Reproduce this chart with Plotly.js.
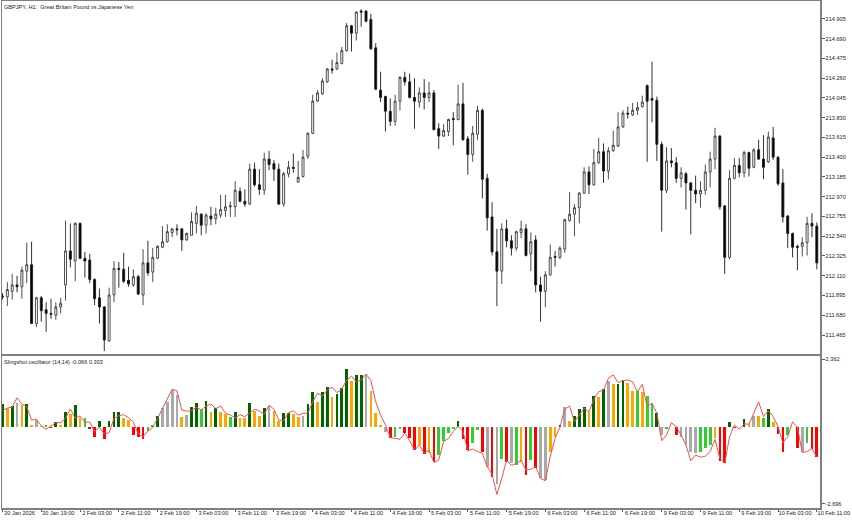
<!DOCTYPE html>
<html><head><meta charset="utf-8">
<script src="https://cdn.plot.ly/plotly-3.0.1.min.js"></script>
<style>html,body{margin:0;padding:0;background:#fff}</style></head>
<body><div id="c" style="width:852px;height:520px"></div>
<script>
const open=[211.89,211.88,211.94,212.01,211.99,212.16,212.23,211.59,211.87,211.74,211.70,211.68,211.77,212.01,212.38,212.27,212.68,212.30,212.28,212.07,211.87,211.77,211.40,211.90,212.19,212.18,212.06,212.01,212.10,211.90,212.25,212.15,212.30,212.42,212.48,212.58,212.62,212.62,212.50,212.55,212.68,212.78,212.66,212.76,
212.73,212.77,212.82,212.86,212.86,213.03,212.92,212.89,213.27,213.10,213.04,213.38,213.33,213.27,212.89,213.22,213.29,213.13,213.19,213.41,213.66,214.01,214.09,214.22,214.36,214.36,214.42,214.56,214.83,214.75,214.99,214.99,214.90,214.59,214.13,214.06,213.90,213.79,214.01,214.27,214.22,214.05,214.00,
214.10,214.05,214.10,213.71,213.63,213.68,213.82,213.81,213.98,213.60,213.43,213.65,213.91,213.17,212.75,212.37,212.16,212.62,212.49,212.41,212.58,212.62,212.35,212.50,212.01,211.94,212.12,212.32,212.31,212.40,212.71,212.78,212.85,213.01,213.24,213.10,213.34,213.46,213.25,213.47,213.52,213.73,213.88,
213.86,213.91,213.95,214.18,214.04,214.02,213.54,213.04,213.36,213.34,213.17,213.22,213.12,213.04,213.00,213.04,213.24,213.38,213.63,212.87,212.31,213.17,213.31,213.23,213.45,213.29,213.48,213.38,213.35,213.61,213.40,213.12,212.76,212.57,212.43,212.43,212.47,212.68,212.65];
const high=[211.92,212.04,212.13,212.11,212.21,212.47,212.48,211.88,211.89,211.82,211.86,211.82,211.87,212.71,212.68,212.69,212.69,212.37,212.35,212.08,211.97,211.78,211.98,212.27,212.26,212.36,212.21,212.18,212.12,212.40,212.49,212.41,212.44,212.65,212.67,212.63,212.67,212.63,212.58,212.80,212.87,212.79,212.79,212.86,
212.85,212.99,212.99,212.92,213.14,213.07,213.05,213.33,213.34,213.27,213.45,213.47,213.37,213.33,213.24,213.36,213.44,213.36,213.48,213.67,214.08,214.13,214.26,214.37,214.46,214.54,214.60,214.86,214.84,214.99,215.01,215.00,214.96,214.64,214.33,214.07,214.04,214.08,214.28,214.33,214.31,214.26,214.16,
214.25,214.22,214.13,213.77,213.76,213.82,213.89,214.19,214.21,213.63,213.74,213.96,213.93,213.22,212.91,212.62,212.68,212.72,212.55,212.60,212.71,212.67,212.58,212.55,212.10,212.16,212.45,212.38,212.43,212.73,213.02,212.89,213.02,213.29,213.30,213.49,213.61,213.55,213.51,213.69,213.89,213.91,213.95,
213.99,214.00,214.07,214.19,214.44,214.06,213.57,213.51,213.50,213.40,213.29,213.24,213.13,213.20,213.14,213.32,213.46,213.72,213.64,212.88,213.26,213.39,213.39,213.47,213.46,213.50,213.59,213.64,213.68,213.73,213.41,213.27,212.77,212.58,212.45,212.53,212.75,212.79,212.69];
const low=[211.85,211.78,211.85,211.93,211.86,212.03,211.59,211.55,211.61,211.50,211.64,211.63,211.70,211.84,212.20,212.05,212.29,212.09,212.03,211.79,211.59,211.29,211.39,211.82,211.98,212.03,211.99,211.99,211.90,211.79,212.11,212.04,212.29,212.41,212.47,212.53,212.55,212.38,212.49,212.55,212.57,212.55,212.57,212.66,
212.67,212.74,212.75,212.75,212.75,212.91,212.86,212.88,213.08,212.99,212.99,213.26,213.14,212.88,212.86,213.18,213.23,213.12,213.18,213.38,213.65,214.00,214.08,214.21,214.31,214.35,214.41,214.55,214.55,214.67,214.82,214.87,214.57,214.13,214.00,213.68,213.74,213.74,213.91,214.18,214.04,213.71,213.94,
213.92,214.00,213.69,213.49,213.62,213.63,213.53,213.80,213.58,213.21,213.35,213.59,212.95,212.60,212.33,211.78,212.02,212.42,212.33,212.38,212.52,212.32,212.16,211.93,211.61,211.77,212.11,212.21,212.29,212.36,212.70,212.54,212.68,213.00,213.00,213.09,213.33,213.12,213.16,213.46,213.51,213.72,213.82,
213.85,213.86,213.94,213.35,213.78,213.36,212.59,213.01,213.29,213.12,213.07,212.83,212.56,212.90,212.85,212.99,213.07,213.27,212.83,212.13,212.29,213.16,213.18,213.18,213.19,213.28,213.37,213.16,213.34,213.37,213.09,212.69,212.41,212.31,212.17,212.32,212.33,212.53,212.18];
const close=[211.88,211.96,212.01,211.99,212.17,212.23,211.59,211.87,211.73,211.70,211.69,211.77,211.81,212.38,212.29,212.68,212.30,212.27,212.07,211.86,211.77,211.41,211.90,212.19,212.18,212.05,212.02,212.10,211.91,212.25,212.14,212.31,212.43,212.48,212.59,212.62,212.61,212.50,212.57,212.70,212.79,212.66,212.77,212.73,
212.78,212.83,212.86,212.87,213.04,212.92,212.89,213.27,213.10,213.05,213.38,213.32,213.27,212.89,213.22,213.29,213.28,213.18,213.40,213.66,214.01,214.10,214.23,214.36,214.35,214.43,214.56,214.83,214.75,214.98,214.98,214.88,214.58,214.14,214.05,213.90,213.79,214.01,214.27,214.22,214.05,214.01,214.10,
214.05,214.10,213.70,213.63,213.69,213.81,213.81,213.98,213.59,213.43,213.66,213.91,213.16,212.74,212.37,212.16,212.62,212.49,212.41,212.59,212.62,212.33,212.48,212.01,211.94,212.12,212.31,212.31,212.41,212.72,212.78,212.85,213.01,213.24,213.10,213.34,213.46,213.25,213.47,213.53,213.73,213.88,213.87,
213.91,213.94,214.00,214.01,214.02,213.54,213.04,213.36,213.34,213.17,213.23,213.12,213.04,213.00,213.04,213.24,213.38,213.63,212.86,212.31,213.17,213.31,213.23,213.45,213.28,213.48,213.38,213.29,213.62,213.40,213.11,212.75,212.57,212.42,212.42,212.47,212.68,212.65,212.25];

const histogram=[.79,.64,.73,.84,.76,.79,.05,.23,.02,.05,-.03,.16,.07,.51,.44,.76,.31,.30,-.07,-.37,.20,-.44,.20,.51,.51,.31,.23,-.29,-.37,-.43,-.16,.05,.38,.64,.87,1.28,1.10,.35,.41,.68,.82,.61,.91,.52,.64,.52,.43,.35,.50,.31,.31,.82,.56,.37,.64,.73,.54,.21,
.47,.49,.44,.35,.38,.79,1.20,.87,1.20,1.39,1.05,1.15,1.34,2.02,1.61,1.79,1.79,1.79,1.26,.49,.05,-.20,-.41,-.37,-.09,-.21,-.41,-.82,-.64,-.97,-.93,-1.25,-.99,-.49,-.23,-.07,.20,-.44,-.82,-.56,-.12,-.87,-1.42,-1.75,-2.00,-1.12,-1.22,-1.28,-1.34,-1.25,-1.69,-1.17,-1.46,-1.81,-1.86,-.87,-.37,.05,
.68,.20,.38,.62,.68,.52,1.07,1.05,1.31,1.61,1.49,1.49,1.63,1.54,1.26,1.24,1.21,1.07,.82,.47,-.29,-.09,-.02,-.29,-.37,-.64,-.87,-.91,-.90,-.73,-.64,-.41,-1.19,-1.26,.15,-.06,-.02,.28,.09,.37,.37,.31,.61,.17,-.26,-.90,-.29,-.02,-.76,-.87,-.56,-.79,-1.07];
// g dark green, l lime green, o orange, s grey, r red
const kinds1=["g","o","g","s","o","g","o","s","o","l","r","g","o","g","o","g","o","l","r","r","g","r","g","g","g","o","o","r","r","r","l","l","g","s","s","s","s","o","s","g","g","l","g","o","g","o","o","l","g","o","o","g","o","o","g","s","o","o"];
const kinds2=["g","g","o","o","s","g","g","o","g","g","o","g","g","g","o","g","g","s","o","o","o","s","r","l","l","r","r","r","o","r","o","r","l","l","l","l","g","r","r","l","l","r","s","r","s","l","r","s","l","o","r","l","r","s","s","o","o","g"];
const kinds3=["s","o","g","g","g","o","g","o","g","s","o","g","g","o","o","l","o","l","l","g","s","l","s","r","s","s","s","s","l","l","l","o","r","r","g","r","l","g","o","s","o","l","g","o","r","r","l","s","r","s","l","r","r"];
const barColors={g:"#006400",l:"#32cd32",o:"#ffa500",s:"#a9a9a9",r:"#ff0000"};
const signal=[.56,.65,.68,1.01,.79,.70,.23,.26,.03,-.09,.02,.14,.14,.29,.62,.29,.37,.16,.16,-.17,-.02,-.26,-.21,.29,.38,.42,.31,.16,-.26,-.35,-.15,-.02,.29,.64,.97,1.31,1.25,.58,.54,.56,.68,.58,.72,.79,.63,.72,.47,.41,.30,.42,.35,.49,.61,.55,.43,.75,.61,.23,
.21,.49,.55,.40,.47,.47,.87,1.17,1.07,1.28,1.38,1.19,1.31,1.63,1.77,1.56,1.63,1.84,1.61,.87,.41,.06,-.38,-.41,-.44,-.23,-.49,-.82,-.64,-.93,-.82,-1.25,-1.17,-.52,-.41,-.17,.02,-.17,-.85,-.78,-.87,-.93,-1.40,-1.65,-2.37,-1.81,-1.17,-1.36,-1.28,-1.17,-1.52,-1.49,-1.40,-1.81,-1.89,-1.05,-.41,-.02,
.61,.72,.17,.41,.64,.52,.96,1.22,1.28,1.69,1.81,1.54,1.61,1.63,1.57,1.22,1.48,.70,.82,.47,-.49,-.29,.14,0,-.29,-.64,-1.19,-.99,-1.07,-1.03,-.87,-.44,-1.11,-1.28,-.35,.06,-.09,.09,.09,.47,.87,.35,.56,.35,0,-.56,-.35,.17,-.02,-.90,-.87,-.76,-1.07];
const priceTicks=[211.465,211.680,211.895,212.110,212.325,212.540,212.755,212.970,213.185,213.400,213.615,213.830,214.045,214.260,214.475,214.690,214.905];
const priceLabels=["211.465","211.680","211.895","212.110","212.325","212.540","212.755","212.970","213.185","213.400","213.615","213.830","214.045","214.260","214.475","214.690","214.905"];
const oscTicks=[2.362,-2.696];
const oscLabels=["2.362","-2.696"];
const timeBars=[0,8,16,24,32,40,48,56,64,72,80,88,96,104,112,120,128,136,144,152,160,168];
const timeLabels=["30 Jan 2026","30 Jan 19:00","2 Feb 03:00","2 Feb 11:00","2 Feb 19:00","3 Feb 03:00","3 Feb 11:00","3 Feb 19:00","4 Feb 03:00","4 Feb 11:00","4 Feb 19:00","5 Feb 03:00","5 Feb 11:00","5 Feb 19:00","6 Feb 03:00","6 Feb 11:00","6 Feb 19:00","9 Feb 03:00","9 Feb 11:00","9 Feb 19:00","10 Feb 03:00","10 Feb 11:00"];
const chartTitle="GBPJPY, H1:  Great Britain Pound vs Japanese Yen";
const oscTitle="Slingshot oscillator (14,14) -0.066 0.303";

const kinds=kinds1.concat(kinds2,kinds3);
const idx=close.map((_,i)=>i);
const ink="#3a3a3a", frame="#808080", fontFam="Liberation Sans, Arial, sans-serif";
const tf={family:fontFam,size:5.6,color:"#222"};
const traces=[
 {type:"candlestick",x:idx,open,high,low,close,xaxis:"x2",yaxis:"y",whiskerwidth:0,
  increasing:{line:{color:ink,width:0.9},fillcolor:"#ffffff"},
  decreasing:{line:{color:"#1a1a1a",width:0.9},fillcolor:"#000000"},hoverinfo:"skip"},
 {type:"bar",x:idx,y:histogram,xaxis:"x",yaxis:"y2",width:0.56,
  marker:{color:kinds.map(k=>barColors[k]),line:{width:0}},hoverinfo:"skip"},
 {type:"scatter",mode:"lines",x:idx,y:signal,xaxis:"x",yaxis:"y2",
  line:{color:"#f2504f",width:1},hoverinfo:"skip"}
];
const xr=[-0.103,168.66];
const layout={width:852,height:520,showlegend:false,paper_bgcolor:"#fff",plot_bgcolor:"#fff",
 margin:{l:1.5,r:32,t:1,b:12,pad:0},boxgap:0.42,bargap:0,barmode:"overlay",font:tf,
 xaxis:{domain:[0,1],anchor:"y2",range:xr,tickmode:"array",tickvals:timeBars,ticktext:timeLabels,ticks:"outside",ticklen:2,tickwidth:1,tickcolor:"#555",
   ticklabelshift:17,ticklabelstandoff:-3,tickfont:tf,showgrid:false,zeroline:false,showline:true,linecolor:frame,linewidth:1.5,mirror:true,tickangle:0,fixedrange:true},
 xaxis2:{domain:[0,1],anchor:"y",range:xr,matches:"x",showticklabels:false,ticks:"",showgrid:false,zeroline:false,showline:true,linecolor:frame,linewidth:1.5,mirror:true,rangeslider:{visible:false},fixedrange:true},
 yaxis:{domain:[0.3028,1],anchor:"x2",side:"right",range:[211.253,215.10],tickmode:"array",tickvals:priceTicks,ticktext:priceLabels,ticks:"outside",ticklen:3,tickwidth:1,tickcolor:"#555",tickfont:tf,showgrid:false,zeroline:false,showline:true,linecolor:frame,linewidth:1.5,mirror:true,fixedrange:true},
 yaxis2:{domain:[0,0.2998],anchor:"x",side:"right",range:[-2.843,2.47],tickmode:"array",tickvals:oscTicks,ticktext:oscLabels,ticks:"outside",ticklen:3,tickwidth:1,tickcolor:"#555",tickfont:tf,showgrid:false,zeroline:false,showline:true,linecolor:frame,linewidth:1.5,mirror:true,fixedrange:true},
 annotations:[
  {xref:"paper",yref:"paper",x:0,y:0.9985,xanchor:"left",yanchor:"top",text:chartTitle,showarrow:false,font:tf,align:"left"},
  {xref:"paper",yref:"paper",x:0,y:0.2975,xanchor:"left",yanchor:"top",text:oscTitle,showarrow:false,font:tf,align:"left"}
 ]};
Plotly.newPlot("c",traces,layout,{staticPlot:true,displayModeBar:false});
</script></body></html>
